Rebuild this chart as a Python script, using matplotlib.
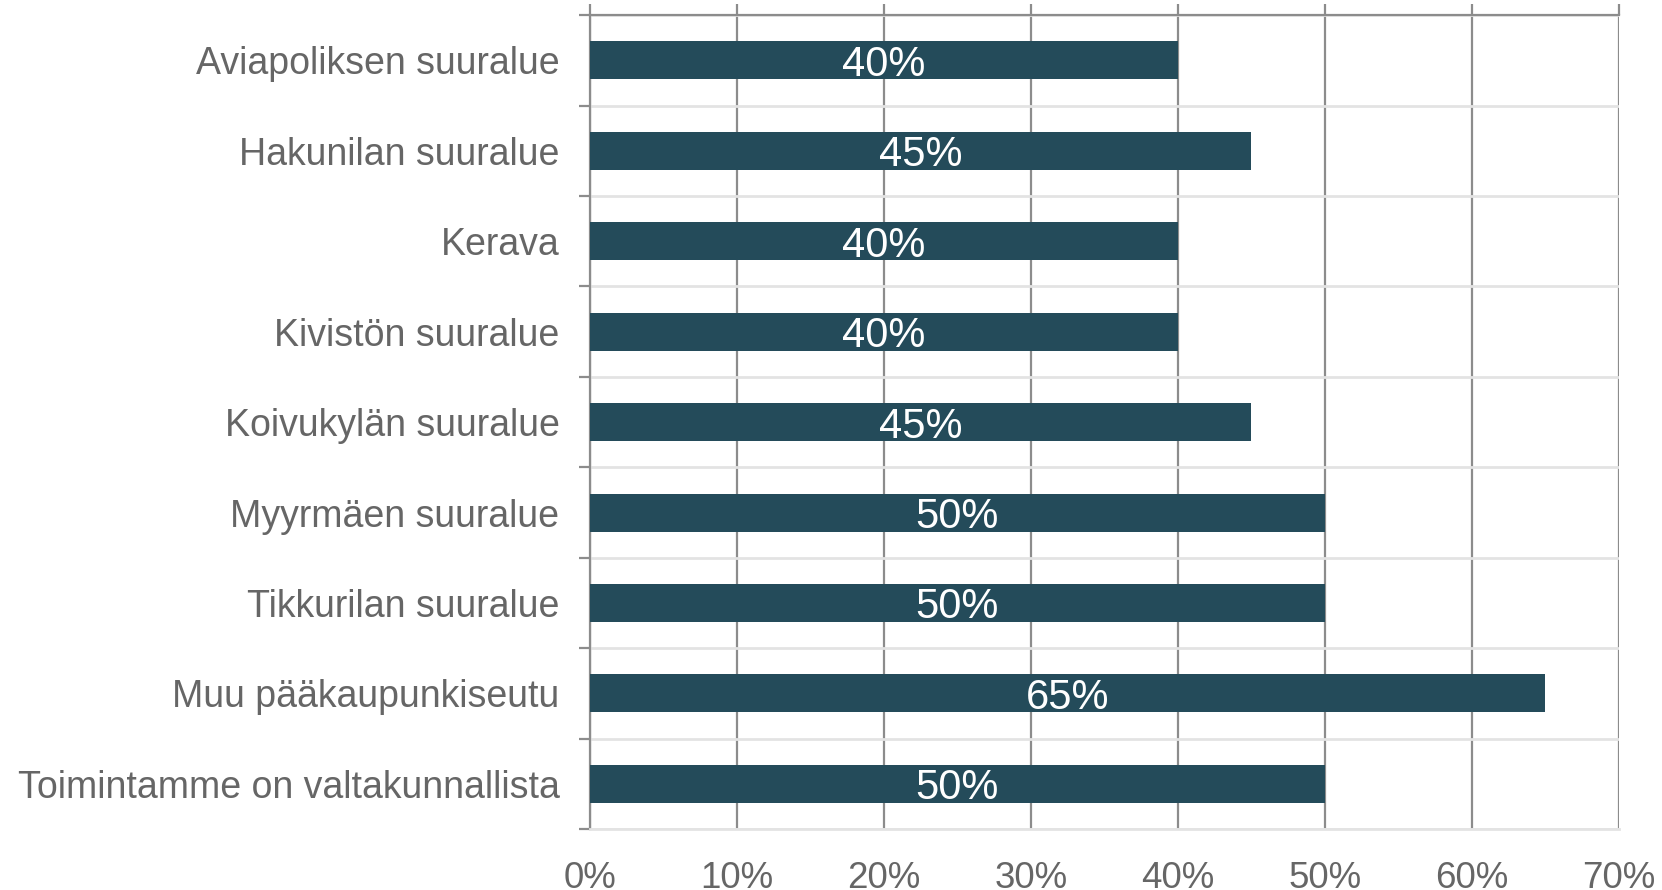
import matplotlib.pyplot as plt
import numpy as np

categories = [
    "Aviapoliksen suuralue",
    "Hakunilan suuralue",
    "Kerava",
    "Kivistön suuralue",
    "Koivukylän suuralue",
    "Myyrmäen suuralue",
    "Tikkurilan suuralue",
    "Muu pääkaupunkiseutu",
    "Toimintamme on valtakunnallista",
]
values = [40, 45, 40, 40, 45, 50, 50, 65, 50]
xticks = [0, 10, 20, 30, 40, 50, 60, 70]

plt.rcParams['font.family'] = ['Liberation Sans', 'DejaVu Sans']

fig = plt.figure(figsize=(16.62, 8.90), dpi=100)
ax = fig.add_axes([0.355, 0.0685, 0.619, 0.9145])

y = np.arange(len(categories))
bars = ax.barh(y, values, height=0.42, color="#244b5a", zorder=3)
for b, v in zip(bars, values):
    ax.text(b.get_width() / 2, b.get_y() + b.get_height() / 2, f"{v}%",
            ha="center", va="center_baseline", color="white", fontsize=30,
            zorder=4)

ax.set_xlim(0, 70)
ax.set_ylim(len(categories) - 0.5, -0.5)
ax.set_xticks(xticks)
ax.set_xticklabels([f"{t}%" for t in xticks])
ax.set_yticks(y)
ax.set_yticklabels(categories)
ax.set_yticks(np.arange(len(categories) + 1) - 0.5, minor=True)

dark = "#8c8c8c"
light = "#e3e3e3"
ax.grid(axis="x", color=dark, linewidth=1.6, zorder=1)
ax.grid(axis="y", which="minor", color=light, linewidth=2, zorder=1)
ax.grid(axis="y", which="major", visible=False)

ax.tick_params(axis="x", which="major", top=True, bottom=False, labeltop=False,
               labelbottom=True, direction="out", length=8, width=1.6,
               color=dark, labelsize=26.5, labelcolor="#666666", pad=15)
ax.tick_params(axis="y", which="major", length=0, labelsize=27,
               labelcolor="#666666", pad=22)
ax.tick_params(axis="y", which="minor", length=8, width=1.6, color=dark)

for s in ["left", "top"]:
    ax.spines[s].set_color(dark)
    ax.spines[s].set_linewidth(1.6)
ax.spines["right"].set_visible(False)
ax.spines["bottom"].set_color(light)
ax.spines["bottom"].set_linewidth(2)

fig.savefig("out.png", dpi=100, facecolor="white")
